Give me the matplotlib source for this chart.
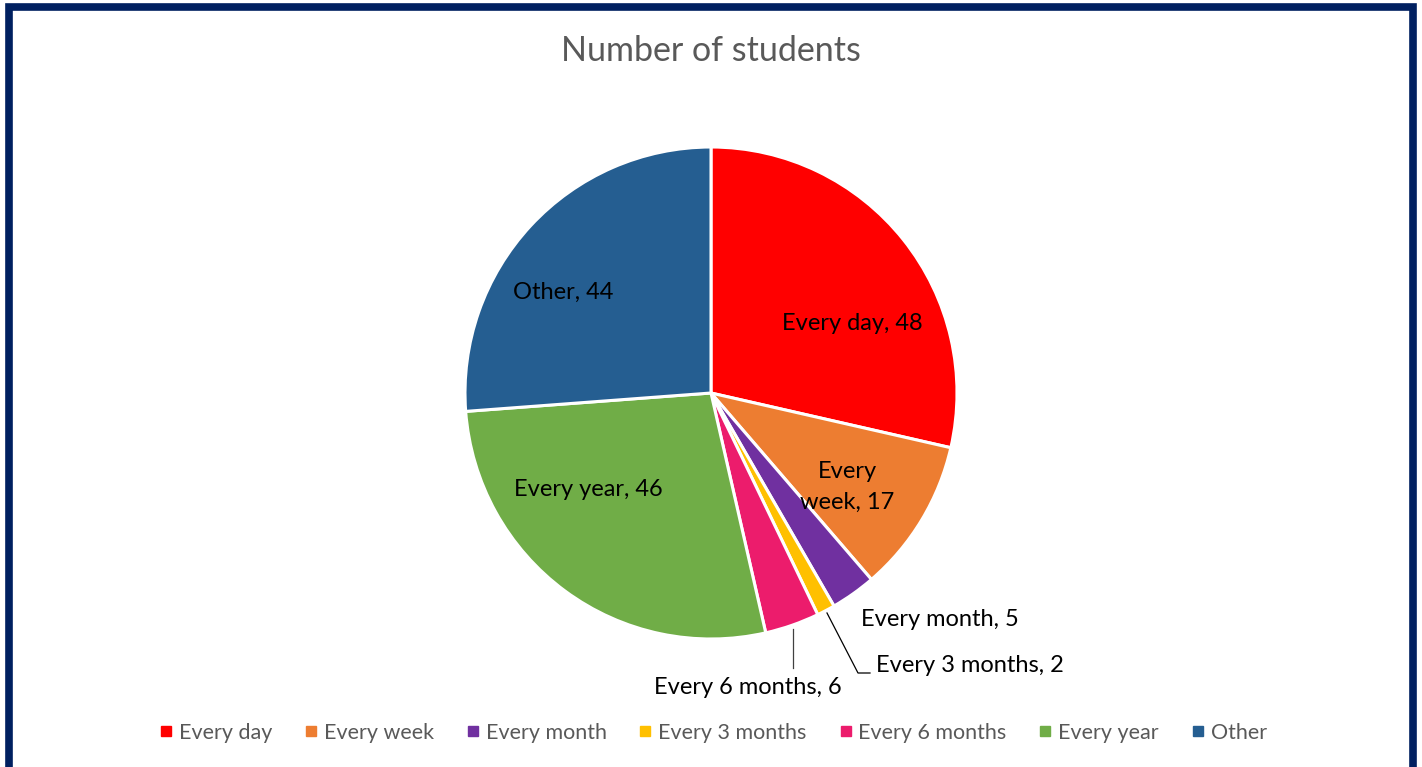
import matplotlib
matplotlib.use("Agg")
import matplotlib.pyplot as plt
from matplotlib.patches import Rectangle

categories = ["Every day", "Every week", "Every month", "Every 3 months",
              "Every 6 months", "Every year", "Other"]
students = [48, 17, 5, 2, 6, 46, 44]
colors = ["#FF0000", "#ED7D31", "#7030A0", "#FFC000", "#EC1C6C", "#70AD47", "#255E91"]

W, H = 1422, 767
CX, CY, R = 711, 393, 246

plt.rcParams["font.family"] = ["Lato", "DejaVu Sans"]

fig = plt.figure(figsize=(W / 100, H / 100), dpi=100)
ax = fig.add_axes([(CX - R) / W, 1 - (CY + R) / H, 2 * R / W, 2 * R / H])
wedges, _ = ax.pie(students, colors=colors, startangle=90, counterclock=False,
                   radius=1.0, wedgeprops=dict(edgecolor="white", linewidth=2.2))
ax.set_xlim(-1, 1)
ax.set_ylim(-1, 1)
ax.set_aspect("equal")
ax.axis("off")


def to_data(px, py):
    return (px - CX) / R, (CY - py) / R


fs = 17
inside = [
    ("Every day, 48", 852, 323),
    ("Every\nweek, 17", 847, 487),
    ("Other, 44", 563, 292),
    ("Every year, 46", 588, 490),
]
for txt, px, py in inside:
    x, y = to_data(px, py)
    ax.text(x, y, txt, ha="center", va="center", fontsize=fs, color="black",
            linespacing=1.55)

outside = [
    ("Every month, 5", 940, 619),
    ("Every 3 months, 2", 970, 666),
    ("Every 6 months, 6", 748, 687),
]
for txt, px, py in outside:
    x, y = to_data(px, py)
    ax.text(x, y, txt, ha="center", va="center", fontsize=fs, color="black", clip_on=False)

# leader lines
lx, ly = zip(*[to_data(827, 613), to_data(858, 673), to_data(870, 673)])
ax.plot(lx, ly, color="black", linewidth=0.9, clip_on=False)
lx, ly = zip(*[to_data(793, 629), to_data(793, 668)])
ax.plot(lx, ly, color="#404040", linewidth=0.9, clip_on=False)

fig.text(0.5, 1 - 51 / H, "Number of students", ha="center", va="center",
         fontsize=24.5, color="#595959")

handles = [plt.Line2D([], [], marker="s", linestyle="", markersize=7,
                      markerfacecolor=c, markeredgecolor=c) for c in colors]
fig.legend(handles, categories, loc="center", bbox_to_anchor=(0.5, 1 - 733 / H),
           ncol=7, frameon=False, fontsize=15.5, labelcolor="#595959",
           handletextpad=0.1, columnspacing=1.3, handlelength=1.0)

fig.patches.append(Rectangle((8.5 / W, -0.05), (1413 - 8.5) / W, 1 - 6.5 / H + 0.05,
                             transform=fig.transFigure, fill=False,
                             edgecolor="#002060", linewidth=5.5, zorder=10))

fig.savefig("out.png", dpi=100, facecolor="white")
